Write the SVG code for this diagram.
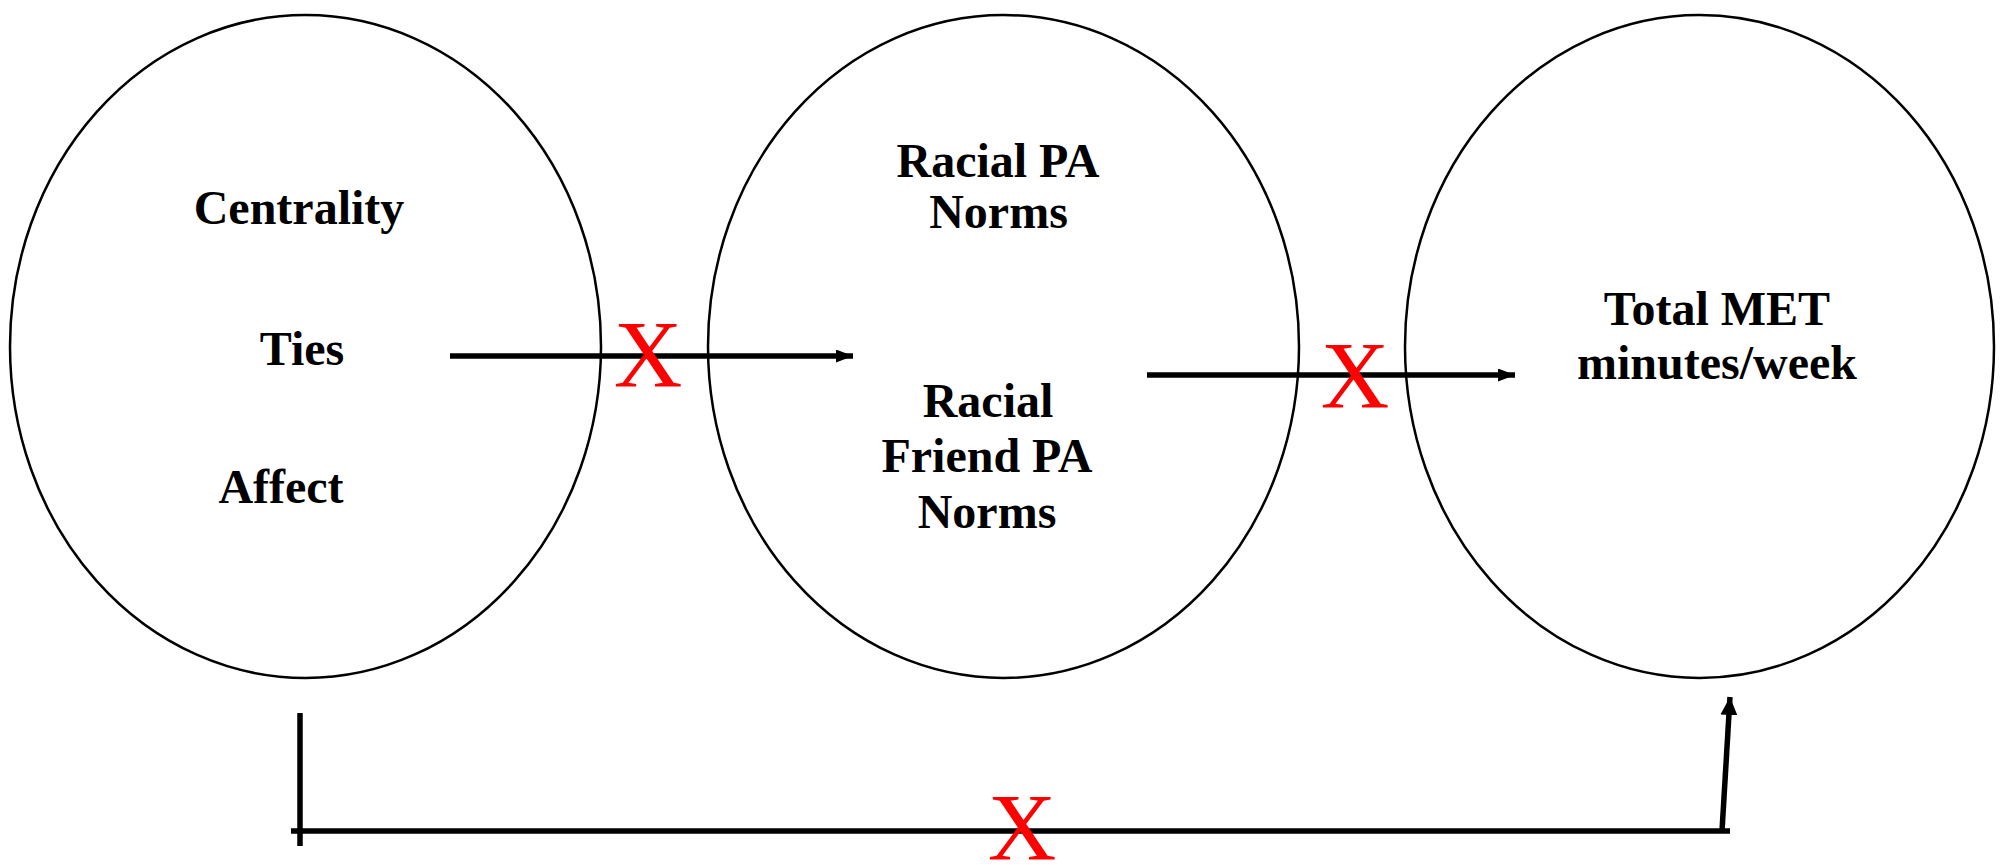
<svg xmlns="http://www.w3.org/2000/svg" width="2001" height="865" viewBox="0 0 2001 865">
<style>
.node{fill:#fff;stroke:#000;stroke-width:2.5}
.lbl{font-family:"Liberation Serif","Times New Roman",serif;font-weight:bold;font-size:48px;fill:#000;text-anchor:middle}
.x{font-family:"Liberation Serif","Times New Roman",serif;font-size:95px;fill:#ff0000;text-anchor:middle}
.conn{stroke:#000;stroke-width:5.5;fill:none}
</style>
<defs>
<marker id="ah" viewBox="0 0 17 13" refX="17" refY="6.5" markerWidth="17" markerHeight="13" markerUnits="userSpaceOnUse" orient="auto">
<path d="M0,0 L17,6.5 L0,13 z" fill="#000"/>
</marker>
<marker id="ah2" viewBox="0 0 18 17" refX="18" refY="8.5" markerWidth="18" markerHeight="17" markerUnits="userSpaceOnUse" orient="auto">
<path d="M0,0 L18,8.5 L0,17 z" fill="#000"/>
</marker>
</defs>
<rect width="2001" height="865" fill="#fff"/>
<g id="node-network">
<ellipse class="node" cx="305.5" cy="346.5" rx="295.5" ry="331.5"/>
<text class="lbl" x="299" y="224">Centrality</text>
<text class="lbl" x="302" y="365">Ties</text>
<text class="lbl" x="281" y="503">Affect</text>
</g>
<g id="node-norms">
<ellipse class="node" cx="1003.5" cy="346.5" rx="295.5" ry="331.5"/>
<text class="lbl" x="998" y="177">Racial PA</text>
<text class="lbl" x="998.5" y="228">Norms</text>
<text class="lbl" x="988" y="417">Racial</text>
<text class="lbl" x="987" y="472">Friend PA</text>
<text class="lbl" x="987" y="528">Norms</text>
</g>
<g id="node-met">
<ellipse class="node" cx="1699.5" cy="346.5" rx="294.5" ry="331.5"/>
<text class="lbl" x="1717" y="325">Total MET</text>
<text class="lbl" x="1717" y="379">minutes/week</text>
</g>
<g id="connectors">
<line class="conn" x1="450" y1="356" x2="853" y2="356" marker-end="url(#ah)"/>
<line class="conn" x1="1147" y1="375" x2="1515" y2="375" marker-end="url(#ah)"/>
<line class="conn" x1="300" y1="713" x2="300" y2="846"/>
<line class="conn" x1="291" y1="831" x2="1730" y2="831"/>
<line class="conn" x1="1722" y1="831" x2="1730" y2="697" marker-end="url(#ah2)"/>
</g>
<g id="labels">
<text class="x" x="648" y="387">X</text>
<text class="x" x="1355" y="408">X</text>
<text class="x" x="1022" y="860">X</text>
</g>
</svg>
